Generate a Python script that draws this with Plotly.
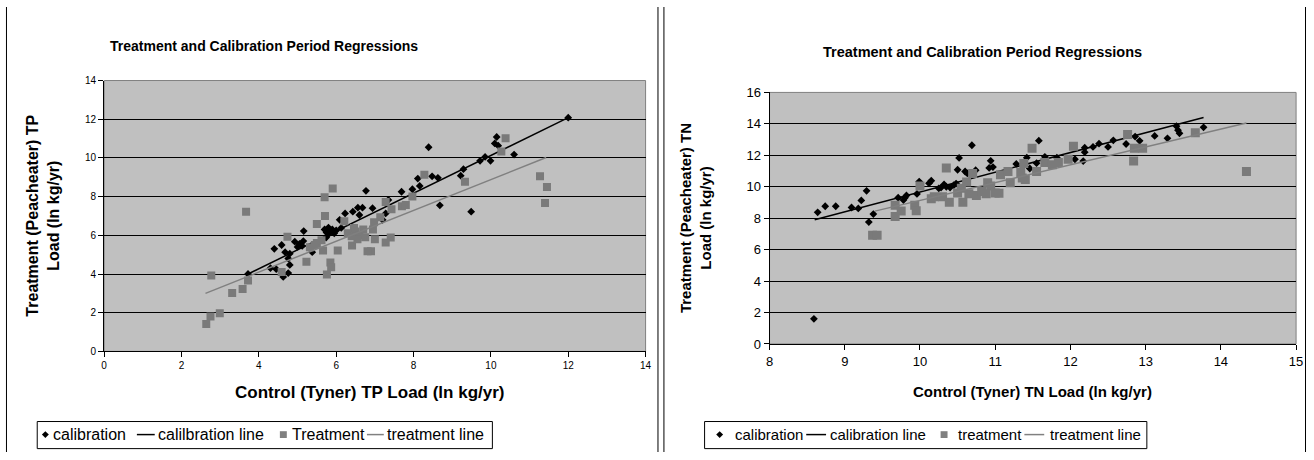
import plotly.graph_objects as go

# ---------------- Left chart (TP) ----------------
tp_cal_x = [12.0, 10.15, 10.1, 10.19, 10.6, 9.72, 9.85, 9.99, 8.39, 9.29, 9.22, 8.48, 8.63, 8.11,
            8.16, 7.97, 7.69, 8.68, 9.49, 6.77, 7.35, 6.94, 6.68, 6.56, 6.43, 6.23, 6.6, 7.28, 7.2,
            6.09, 6.13, 5.7, 5.75, 5.8, 5.85, 5.9, 5.95, 5.8, 6.0, 5.16, 5.74, 4.93, 5.05, 5.12,
            5.15, 5.0, 4.59, 4.4, 4.68, 4.8, 4.76, 5.38, 4.8, 4.3, 4.45, 3.72, 4.76, 4.63]
tp_cal_y = [12.08, 11.08, 10.75, 10.63, 10.17, 9.85, 10.05, 9.85, 10.55, 9.42, 9.08, 9.05, 8.97, 8.93,
            8.55, 8.38, 8.25, 7.55, 7.22, 8.3, 7.83, 7.4, 7.43, 7.43, 7.22, 7.13, 7.05, 7.13, 6.8,
            6.8, 6.38, 6.3, 6.15, 6.4, 6.2, 6.3, 6.1, 6.05, 6.25, 6.22, 5.88, 5.67, 5.55, 5.45,
            5.7, 5.4, 5.5, 5.3, 5.13, 5.05, 4.8, 5.13, 4.47, 4.3, 4.25, 4.0, 4.05, 3.85]
tp_trt_x = [10.38, 10.27, 8.28, 9.33, 7.97, 7.28, 7.43, 7.7, 7.8, 7.14, 6.98, 7.0, 7.41, 7.28, 6.9,
            11.27, 11.45, 11.4, 5.91, 5.7, 3.67, 5.71, 5.5, 4.74, 6.21, 6.04, 6.41, 6.81, 5.23,
            5.85, 5.87, 5.76, 2.77, 6.46, 6.3, 6.5, 6.6, 6.75, 6.55, 6.95, 6.7, 6.4, 5.32, 5.66,
            5.5, 5.62, 5.45, 2.75, 2.64, 2.99, 3.31, 3.58, 3.72, 4.59]
tp_trt_y = [11.02, 10.33, 9.13, 8.77, 8.0, 7.72, 7.35, 7.5, 7.57, 6.93, 6.67, 5.8, 5.88, 5.63, 5.17,
            9.05, 8.5, 7.67, 8.42, 7.97, 7.22, 7.0, 6.58, 5.92, 6.72, 5.22, 5.47, 5.17, 4.63,
            4.6, 4.35, 3.97, 3.92, 6.38, 6.1, 6.2, 6.0, 5.9, 5.8, 6.3, 6.3, 5.95, 5.38, 5.22,
            5.6, 5.75, 5.5, 1.8, 1.42, 1.97, 3.02, 3.22, 3.67, 4.1]
tp_cal_line_x = [3.72, 12.0]
tp_cal_line_y = [4.0, 12.08]
tp_trt_line_x = [2.62, 11.43]
tp_trt_line_y = [3.0, 10.02]
tp_legend_labels = ["calibration", "calilbration line", "Treatment", "treatment line"]

# ---------------- Right chart (TN) ----------------
tn_cal_x = [8.59, 8.64, 8.74, 8.88, 9.09, 9.18, 9.22, 9.29, 9.32, 9.38, 9.71, 9.78, 9.8, 9.82, 9.96,
            9.99, 10.12, 10.15, 10.25, 10.28, 10.32, 10.4, 10.45, 10.35, 10.48, 10.5, 10.52, 10.6,
            10.63, 10.69, 10.74, 10.94, 10.92, 10.97, 11.28, 11.42, 11.46, 11.55, 11.58, 11.66,
            11.82, 12.06, 12.17, 12.19, 12.19, 12.3, 12.38, 12.5, 12.57, 12.74, 12.86, 12.92,
            13.12, 13.29, 13.41, 13.43, 13.45, 13.77]
tn_cal_y = [1.6, 8.37, 8.76, 8.76, 8.68, 8.62, 9.13, 9.74, 7.75, 8.26, 9.3, 9.15, 9.3, 9.45, 9.54,
            10.33, 10.22, 10.38, 9.9, 9.95, 10.15, 9.95, 10.1, 10.0, 10.2, 11.08, 11.83, 10.97,
            10.85, 12.64, 11.05, 11.65, 11.2, 11.25, 11.45, 11.85, 11.16, 11.5, 12.93, 11.9,
            11.85, 11.75, 11.63, 12.2, 12.48, 12.53, 12.74, 12.53, 12.95, 12.72, 13.19, 12.92,
            13.23, 13.08, 13.85, 13.6, 13.4, 13.78]
tn_trt_x = [9.37, 9.43, 9.67, 9.67, 9.75, 9.93, 9.95, 10.0, 10.15, 10.19, 10.35, 10.3, 10.39, 10.57,
            10.5, 10.55, 10.62, 10.65, 10.75, 10.82, 10.7, 10.9, 10.94, 11.05, 11.07, 11.17, 11.2,
            11.36, 11.38, 11.34, 11.49, 11.55, 11.4, 11.66, 11.76, 11.84, 11.97, 12.04, 12.76,
            12.85, 12.96, 12.84, 13.66, 14.34, 10.88, 11.0]
tn_trt_y = [6.91, 6.91, 8.82, 8.1, 8.45, 8.82, 8.47, 10.05, 9.23, 9.37, 11.2, 9.37, 9.02, 9.02,
            9.6, 9.9, 10.3, 9.55, 9.45, 9.7, 10.85, 10.25, 10.05, 9.58, 10.77, 10.97, 10.25,
            10.56, 11.48, 10.9, 12.45, 10.97, 10.46, 11.54, 11.4, 11.54, 11.75, 12.57, 13.33,
            12.45, 12.45, 11.63, 13.43, 10.97, 9.55, 9.6]
tn_cal_line_x = [8.6, 13.77]
tn_cal_line_y = [7.9, 14.4]
tn_trt_line_x = [9.4, 14.34]
tn_trt_line_y = [8.45, 14.05]
tn_legend_labels = ["calibration", "calibration line", "treatment", "treatment line"]

W, H = 1314, 460
FONT = "Liberation Sans, Arial, sans-serif"
BLACK = "#000000"
GRAY = "#808080"
SQ = "#7a7a7a"


def px(x):
    return x / W


def py(y):
    return (H - y) / H


fig = go.Figure()

# left traces
fig.add_trace(go.Scatter(x=tp_cal_x, y=tp_cal_y, mode="markers", name=tp_legend_labels[0],
                         marker=dict(symbol="diamond", size=6, color=BLACK), xaxis="x", yaxis="y"))
fig.add_trace(go.Scatter(x=tp_cal_line_x, y=tp_cal_line_y, mode="lines", name=tp_legend_labels[1],
                         line=dict(color=BLACK, width=1.5), xaxis="x", yaxis="y"))
fig.add_trace(go.Scatter(x=tp_trt_x, y=tp_trt_y, mode="markers", name=tp_legend_labels[2],
                         marker=dict(symbol="square", size=8, color=SQ), xaxis="x", yaxis="y"))
fig.add_trace(go.Scatter(x=tp_trt_line_x, y=tp_trt_line_y, mode="lines", name=tp_legend_labels[3],
                         line=dict(color=GRAY, width=1.5), xaxis="x", yaxis="y"))

# right traces
fig.add_trace(go.Scatter(x=tn_cal_x, y=tn_cal_y, mode="markers", name=tn_legend_labels[0],
                         marker=dict(symbol="diamond", size=6, color=BLACK), xaxis="x2", yaxis="y2"))
fig.add_trace(go.Scatter(x=tn_cal_line_x, y=tn_cal_line_y, mode="lines", name=tn_legend_labels[1],
                         line=dict(color=BLACK, width=1.5), xaxis="x2", yaxis="y2"))
fig.add_trace(go.Scatter(x=tn_trt_x, y=tn_trt_y, mode="markers", name=tn_legend_labels[2],
                         marker=dict(symbol="square", size=9, color=SQ), xaxis="x2", yaxis="y2"))
fig.add_trace(go.Scatter(x=tn_trt_line_x, y=tn_trt_line_y, mode="lines", name=tn_legend_labels[3],
                         line=dict(color=GRAY, width=1.5), xaxis="x2", yaxis="y2"))

axis_common = dict(showline=True, linecolor=BLACK, linewidth=1, ticks="outside", ticklen=5,
                   tickcolor=BLACK, zeroline=False)

fig.update_layout(
    width=W, height=H, margin=dict(l=0, r=0, t=0, b=0),
    paper_bgcolor="white", plot_bgcolor="#C0C0C0",
    font=dict(family=FONT, color=BLACK),
    showlegend=False,
    xaxis=dict(domain=[px(101), px(647)], range=[0, 14], dtick=2, showgrid=False,
               anchor="y", tickfont=dict(size=10), **axis_common),
    yaxis=dict(domain=[py(356), py(76)], range=[0, 14], dtick=2, showgrid=True,
               gridcolor=BLACK, gridwidth=1, anchor="x", tickfont=dict(size=10), **axis_common),
    xaxis2=dict(domain=[px(772), px(1303)], range=[8, 15], dtick=1, showgrid=False,
                anchor="y2", tickfont=dict(size=13), **axis_common),
    yaxis2=dict(domain=[py(348.3), py(88.3)], range=[0, 16], dtick=2, showgrid=True,
                gridcolor=BLACK, gridwidth=1, anchor="x2", tickfont=dict(size=13), **axis_common),
)

# plot area borders (gray)
fig.add_shape(type="rect", xref="x domain", yref="y domain", x0=0, x1=1, y0=0, y1=1,
              line=dict(color=GRAY, width=1), layer="below")
fig.add_shape(type="rect", xref="x2 domain", yref="y2 domain", x0=0, x1=1, y0=0, y1=1,
              line=dict(color=GRAY, width=1), layer="below")
# chart frame side borders
for xb in (2.5, 659.5, 665.5, 1312.5):
    fig.add_shape(type="line", xref="paper", yref="paper", x0=px(xb), x1=px(xb), y0=0, y1=1,
                  line=dict(color=BLACK, width=1))


# ---- custom legends (drawn as shapes + text) ----
def add_legend(box, yc, items, fsize, r):
    x0, x1, y0, y1 = box
    fig.add_shape(type="rect", xref="paper", yref="paper", x0=px(x0), x1=px(x1), y0=py(y1), y1=py(y0),
                  line=dict(color=BLACK, width=1), fillcolor="white")
    for kind, pos, label, tx in items:
        if kind == "diamond":
            path = (f"M {px(pos)},{py(yc - r)} L {px(pos + r)},{py(yc)} L {px(pos)},{py(yc + r)} "
                    f"L {px(pos - r)},{py(yc)} Z")
            fig.add_shape(type="path", xref="paper", yref="paper", path=path,
                          fillcolor=BLACK, line=dict(color=BLACK, width=0))
        elif kind == "square":
            fig.add_shape(type="rect", xref="paper", yref="paper", x0=px(pos - r), x1=px(pos + r),
                          y0=py(yc + r), y1=py(yc - r), fillcolor=GRAY, line=dict(color=GRAY, width=0))
        else:
            col = BLACK if kind == "line_black" else GRAY
            fig.add_shape(type="line", xref="paper", yref="paper", x0=px(pos[0]), x1=px(pos[1]),
                          y0=py(yc), y1=py(yc), line=dict(color=col, width=1.5))
        fig.add_annotation(xref="paper", yref="paper", x=px(tx), y=py(yc), text=label,
                           showarrow=False, xanchor="left", yanchor="middle",
                           font=dict(size=fsize, family=FONT, color=BLACK))


add_legend((33.5, 492.5, 428.5, 456.5), 442,
           [("diamond", 41.7, tp_legend_labels[0], 47),
            ("line_black", (134, 152), tp_legend_labels[1], 153),
            ("square", 281.7, tp_legend_labels[2], 288),
            ("line_gray", (366, 383), tp_legend_labels[3], 384)], 16, 3.5)

add_legend((706.5, 1152.5, 428.5, 456.5), 442,
           [("diamond", 721.7, tn_legend_labels[0], 735),
            ("line_black", (809, 829), tn_legend_labels[1], 831),
            ("square", 948, tn_legend_labels[2], 960),
            ("line_gray", (1029, 1049), tn_legend_labels[3], 1053)], 15, 3.5)

ann = [
    dict(text="<b>Treatment and Calibration Period Regressions</b>", x=px(262), y=py(40),
         font=dict(size=14)),
    dict(text="<b>Treatment and Calibration Period Regressions</b>", x=px(987), y=py(47),
         font=dict(size=14.5)),
    dict(text="<b>Control (Tyner) TP Load (ln kg/yr)</b>", x=px(369), y=py(398), font=dict(size=17)),
    dict(text="<b>Control (Tyner) TN Load (ln kg/yr)</b>", x=px(1037), y=py(397), font=dict(size=15)),
    dict(text="<b>Treatment (Peacheater) TP<br>Load (ln kg/yr)</b>", x=px(39), y=py(216),
         textangle=-90, font=dict(size=16)),
    dict(text="<b>Treatment (Peacheater) TN<br>Load (ln kg/yr)</b>", x=px(698), y=py(218),
         textangle=-90, font=dict(size=15)),
]
for a in ann:
    fig.add_annotation(xref="paper", yref="paper", showarrow=False, xanchor="center",
                       yanchor="middle", **a)

fig.write_html("out.html", config={"displayModeBar": False},
               post_script="document.body.style.margin='0';document.body.style.overflow='hidden';")
